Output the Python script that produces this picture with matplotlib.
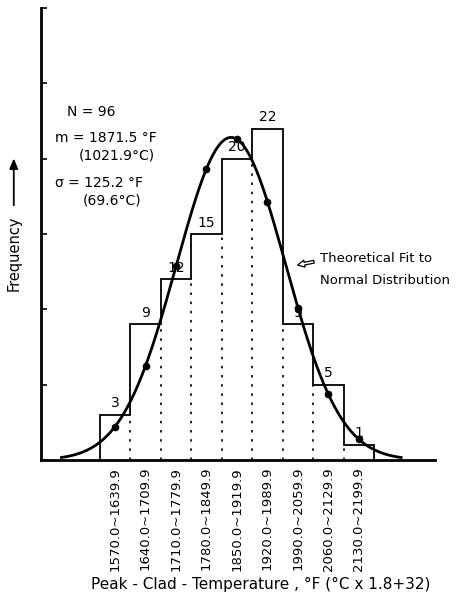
import numpy as np
import matplotlib
matplotlib.use("Agg")
import matplotlib.pyplot as plt

# histogram of peak clad temperature (deg F), 70 F bins
bin_edges = [1570, 1640, 1710, 1780, 1850, 1920, 1990, 2060, 2130, 2200]
counts = [3, 9, 12, 15, 20, 22, 9, 5, 1]
bin_labels = ["1570.0~1639.9", "1640.0~1709.9", "1710.0~1779.9", "1780.0~1849.9",
              "1850.0~1919.9", "1920.0~1989.9", "1990.0~2059.9", "2060.0~2129.9",
              "2130.0~2199.9"]

N = 96
mean_f = 1871.5
sigma_f = 125.2
bin_width = 70


def normal_fit(x):
    return N * bin_width / (sigma_f * np.sqrt(2 * np.pi)) * np.exp(-0.5 * ((x - mean_f) / sigma_f) ** 2)


plt.rcParams['font.family'] = ['DejaVu Sans']

fig = plt.figure(figsize=(4.59, 6.03), dpi=100)
ax = fig.add_axes([0.0893, 0.2371, 0.8587, 0.7496])

edges = np.array(bin_edges)
centers = (edges[:-1] + edges[1:]) / 2

# histogram outline
ax.stairs(counts, edges, baseline=0, fill=False, color="black", linewidth=1.3)
# dotted interior dividers
for i in range(1, len(counts)):
    ax.vlines(edges[i], 0, min(counts[i - 1], counts[i]), colors="black",
              linestyles=(0, (1.5, 4)), linewidth=1.2)

# count labels
for c, v in zip(centers, counts):
    ax.text(c, v + 0.3, str(v), ha="center", va="bottom", fontsize=10)

# theoretical normal fit
xs = np.linspace(1482, 2262, 400)
ax.plot(xs, normal_fit(xs), color="black", linewidth=2)
ax.plot(centers, normal_fit(centers), "o", color="black", markersize=4.5)

# stats text
ax.text(1494, 23.1, "N = 96", fontsize=10, va="center")
ax.text(1467, 21.4, "m = 1871.5 °F", fontsize=10, va="center")
ax.text(1522, 20.2, "(1021.9°C)", fontsize=10, va="center")
ax.text(1467, 18.4, "σ = 125.2 °F", fontsize=10, va="center")
ax.text(1531, 17.25, "(69.6°C)", fontsize=10, va="center")

ax.text(2076, 13.4, "Theoretical Fit to", fontsize=9.5, va="center")
ax.text(2076, 11.9, "Normal Distribution", fontsize=9.5, va="center")
ax.annotate("", xy=(2018, 12.9), xytext=(2068, 13.2),
            arrowprops=dict(arrowstyle="simple,head_width=0.5,head_length=0.5,tail_width=0.2",
                            fc="white", ec="black", lw=0.9))

ax.set_xlim(1435, 2340)
ax.set_ylim(0, 30)
ax.set_yticks(range(0, 31, 5))
ax.set_yticklabels([])
ax.tick_params(axis="y", direction="in", length=4, width=1.2)
ax.set_xticks(centers)
ax.set_xticklabels(bin_labels, rotation=90, fontsize=9.5)
ax.tick_params(axis="x", length=0, pad=5)
ax.spines["top"].set_visible(False)
ax.spines["right"].set_visible(False)
ax.spines["left"].set_linewidth(2)
ax.spines["bottom"].set_linewidth(2)

fig.text(0.567, 0.030, "Peak - Clad - Temperature , °F (°C x 1.8+32)", fontsize=11,
         ha="center", va="center")

fig.text(0.03, 0.58, "Frequency", rotation=90, fontsize=10.5, ha="center", va="center")
fig.add_artist(matplotlib.patches.FancyArrowPatch((0.03, 0.655), (0.03, 0.742),
                                                  transform=fig.transFigure,
                                                  arrowstyle="-|>,head_width=0.25,head_length=0.6",
                                                  mutation_scale=10,
                                                  color="black", lw=1.3))

fig.savefig("out.png", dpi=100)
